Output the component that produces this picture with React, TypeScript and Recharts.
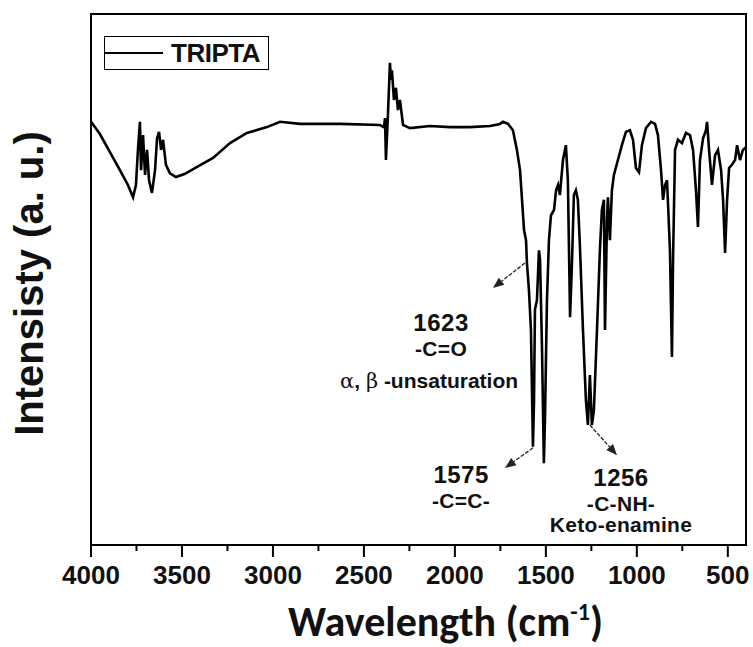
import { Legend, Line, LineChart, ReferenceArea, ReferenceDot, ReferenceLine, XAxis, YAxis } from "recharts"

// FT-IR spectrum of TRIPTA (transmittance in arbitrary units, 0-100)
const WAVENUMBER = [
  4000, 3951, 3896, 3841, 3797, 3769, 3753, 3742, 3731, 3725, 3714, 3703, 3692, 3681, 3665, 3648,
  3637, 3626, 3615, 3604, 3588, 3566, 3533, 3483, 3417, 3329, 3236, 3143, 3033, 2961, 2851, 2631,
  2412, 2390, 2384, 2379, 2368, 2357, 2351, 2346, 2335, 2324, 2313, 2302, 2285, 2247, 2137, 2027,
  1917, 1807, 1752, 1736, 1708, 1681, 1659, 1642, 1631, 1620, 1609, 1604, 1593, 1582, 1571, 1565,
  1560, 1549, 1538, 1532, 1521, 1511, 1505, 1494, 1483, 1472, 1455, 1444, 1433, 1423, 1406, 1390,
  1379, 1367, 1356, 1346, 1335, 1324, 1313, 1296, 1280, 1269, 1258, 1247, 1236, 1219, 1203, 1192,
  1181, 1175, 1164, 1159, 1148, 1137, 1126, 1104, 1082, 1060, 1038, 1021, 1005, 988, 972, 950,
  922, 900, 884, 867, 856, 845, 834, 818, 807, 801, 790, 774, 752, 730, 708, 691,
  675, 664, 653, 636, 620, 614, 603, 587, 570, 554, 537, 526, 515, 504, 493, 477,
  460, 449, 433, 417, 400,
]

const INTENSITY = [
  79.7, 77.4, 74.0, 70.6, 67.8, 65.5, 67.8, 74.4, 79.7, 70.6, 77.2, 69.7, 74.4, 68.7, 66.3, 70.6,
  76.6, 77.8, 74.4, 76.3, 71.6, 70.0, 69.3, 69.9, 71.2, 72.9, 75.7, 77.6, 78.7, 79.7, 79.3, 79.3,
  79.1, 78.7, 80.4, 72.5, 81.0, 90.8, 87.6, 89.4, 83.8, 86.1, 81.9, 83.8, 79.1, 78.5, 78.9, 78.7,
  78.7, 78.9, 79.3, 79.7, 79.3, 78.1, 74.4, 70.6, 65.0, 59.3, 57.4, 53.1, 48.0, 40.5, 18.5, 27.3,
  44.3, 46.1, 55.5, 53.7, 36.7, 15.4, 23.5, 46.1, 57.4, 62.1, 63.1, 66.8, 67.8, 65.9, 72.5, 75.3,
  68.7, 42.9, 53.7, 65.9, 66.8, 65.0, 56.5, 40.5, 27.3, 22.6, 32.0, 22.6, 25.4, 40.5, 55.5, 63.1,
  65.0, 40.5, 61.2, 65.5, 57.4, 66.8, 69.7, 72.5, 75.3, 77.8, 78.1, 76.3, 71.0, 70.2, 75.3, 78.5,
  79.7, 79.3, 77.2, 70.6, 65.0, 67.8, 68.7, 55.5, 35.4, 53.7, 74.4, 76.3, 75.7, 77.6, 77.2, 74.4,
  66.8, 59.9, 72.5, 76.6, 78.1, 79.7, 74.4, 67.8, 73.4, 74.4, 70.6, 65.0, 55.0, 65.0, 71.0, 71.6,
  72.5, 75.3, 72.5, 74.4, 74.9,
]

const MAJOR_TICKS = [4000, 3500, 3000, 2500, 2000, 1500, 1000, 500]
const MINOR_TICKS = [3750, 3250, 2750, 2250, 1750, 1250, 750]

const SERIES_NAME = "TRIPTA"

// peak assignments: where the text block sits and where its arrow points
const PEAK_LABELS = [
  { wn: 2076, y: 40.3, lines: ["1623", "-C=O"] },
  { wn: 1966, y: 11.7, lines: ["1575", "-C=C-"] },
  { wn: 1087, y: 11.1, lines: ["1256", "-C-NH-", "Keto-enamine"] },
]
const PEAK_ARROWS = [
  { from: [1615, 53.1], to: [1791, 48.4] },
  { from: [1571, 18.3], to: [1725, 14.5] },
  { from: [1258, 22.6], to: [1109, 16.9] },
]

const rows = WAVENUMBER.map((wn, k) => ({ wn, intensity: INTENSITY[k] }))

const ARIAL = "'Liberation Sans', Arial, sans-serif"

function XTick({ x, y, payload }: any) {
  const major = MAJOR_TICKS.includes(payload.value)
  return (
    <g>
      <line x1={x} x2={x} y1={y} y2={y + (major ? 12 : 6)} stroke="#000" strokeWidth={2} />
      {major && (
        <text x={x} y={y + 39} textAnchor="middle" fontFamily={ARIAL} fontWeight={700} fontSize={26} fill="#111">
          {payload.value}
        </text>
      )}
    </g>
  )
}

function Arrow({ x1, y1, x2, y2 }: any) {
  const a = Math.atan2(y2 - y1, x2 - x1)
  const len = 11
  const w = 4.5
  const bx = x2 - len * Math.cos(a)
  const by = y2 - len * Math.sin(a)
  const pts = [
    `${x2},${y2}`,
    `${bx + w * Math.sin(a)},${by - w * Math.cos(a)}`,
    `${bx - w * Math.sin(a)},${by + w * Math.cos(a)}`,
  ].join(" ")
  return (
    <g>
      <line x1={x1} y1={y1} x2={bx} y2={by} stroke="#222" strokeWidth={1.3} strokeDasharray="4 1.5" />
      <polygon points={pts} fill="#222" />
    </g>
  )
}

function PeakText({ cx, cy, lines }: any) {
  return (
    <text x={cx} y={cy} textAnchor="middle" fontFamily={ARIAL} fontWeight={700} fill="#111">
      {lines.map((t: string, k: number) => (
        <tspan
          key={t}
          x={cx}
          dy={k === 0 ? 0 : k === 1 ? 25 : 21}
          fontSize={k === 0 ? 24 : 21}
          letterSpacing={k === 0 ? 0.5 : 0.3}
        >
          {t}
        </tspan>
      ))}
    </text>
  )
}

function LegendBox({ payload }: any) {
  const name = payload?.[0]?.value ?? SERIES_NAME
  return (
    <div
      style={{
        boxSizing: "border-box",
        width: 165,
        height: 34,
        border: "1.5px solid #000",
        display: "flex",
        alignItems: "center",
        background: "#fff",
      }}
    >
      <span style={{ display: "inline-block", width: 58, height: 2, background: "#000" }} />
      <span
        style={{
          marginLeft: 8,
          fontFamily: ARIAL,
          fontWeight: 700,
          fontSize: 26,
          lineHeight: "26px",
          color: "#111",
          letterSpacing: -0.5,
        }}
      >
        {name}
      </span>
    </div>
  )
}

export default function App() {
  return (
    <div style={{ position: "absolute", left: 0, top: 0, width: 753, height: 647, background: "#fff" }}>
      <LineChart width={753} height={647} data={rows} margin={{ top: 14, right: 7, bottom: 0, left: 0 }}>
        <XAxis
          dataKey="wn"
          type="number"
          domain={[400, 4000]}
          reversed
          ticks={[...MAJOR_TICKS, ...MINOR_TICKS]}
          interval={0}
          height={102}
          tickSize={0}
          tickMargin={0}
          tickLine={false}
          axisLine={false}
          tick={<XTick />}
          label={{
            content: ({ viewBox }: any) => (
              <text
                x={viewBox.x + viewBox.width / 2 + 27}
                y={viewBox.y + 91}
                textAnchor="middle"
                fontFamily="Carlito, Lato, 'Open Sans', sans-serif"
                fontWeight={700}
                fontSize={42}
                fill="#111"
              >
                Wavelength (cm
                <tspan dy={-16} fontSize={24}>-1</tspan>
                <tspan dy={16}>)</tspan>
              </text>
            ),
          }}
        />
        <YAxis
          type="number"
          domain={[0, 100]}
          width={91}
          tick={false}
          tickLine={false}
          axisLine={false}
          label={{
            content: ({ viewBox }: any) => {
              const x = 43
              const y = viewBox.y + viewBox.height / 2 + 4
              return (
                <text
                  x={x}
                  y={y}
                  transform={`rotate(-90 ${x} ${y})`}
                  textAnchor="middle"
                  fontFamily={ARIAL}
                  fontWeight={700}
                  fontSize={40}
                  fill="#111"
                >
                  Intensisty (a. u.)
                </text>
              )
            },
          }}
        />
        <Legend
          layout="vertical"
          verticalAlign="middle"
          align="center"
          content={<LegendBox />}
          wrapperStyle={{ top: 36, left: 104, width: 165, height: 34 }}
        />
        <Line
          name={SERIES_NAME}
          dataKey="intensity"
          type="linear"
          stroke="#000"
          strokeWidth={2.6}
          dot={false}
          activeDot={false}
          isAnimationActive={false}
        />
        {PEAK_ARROWS.map((a, k) => (
          <ReferenceLine
            key={k}
            segment={[
              { x: a.from[0], y: a.from[1] },
              { x: a.to[0], y: a.to[1] },
            ]}
            ifOverflow="visible"
            shape={(p: any) => <Arrow {...p} />}
          />
        ))}
        {PEAK_LABELS.map((l) => (
          <ReferenceDot
            key={l.lines[0]}
            x={l.wn}
            y={l.y}
            r={0}
            ifOverflow="visible"
            shape={(p: any) => <PeakText cx={p.cx} cy={p.cy} lines={l.lines} />}
          />
        ))}
        <ReferenceDot
          x={2076}
          y={29.6}
          r={0}
          ifOverflow="visible"
          shape={(p: any) => (
            <text x={p.cx + 77} y={p.cy} textAnchor="end" fontFamily={ARIAL} fontWeight={700} fontSize={21} fill="#111">
              <tspan fontFamily="'DejaVu Serif', serif" fontWeight={400}>α</tspan>
              {", "}
              <tspan fontFamily="'DejaVu Serif', serif" fontWeight={400}>β</tspan>
              {" -unsaturation"}
            </text>
          )}
        />
        <ReferenceArea
          x1={4000}
          x2={400}
          y1={0}
          y2={100}
          fill="none"
          stroke="#000"
          strokeWidth={2}
          ifOverflow="visible"
        />
      </LineChart>
    </div>
  )
}
